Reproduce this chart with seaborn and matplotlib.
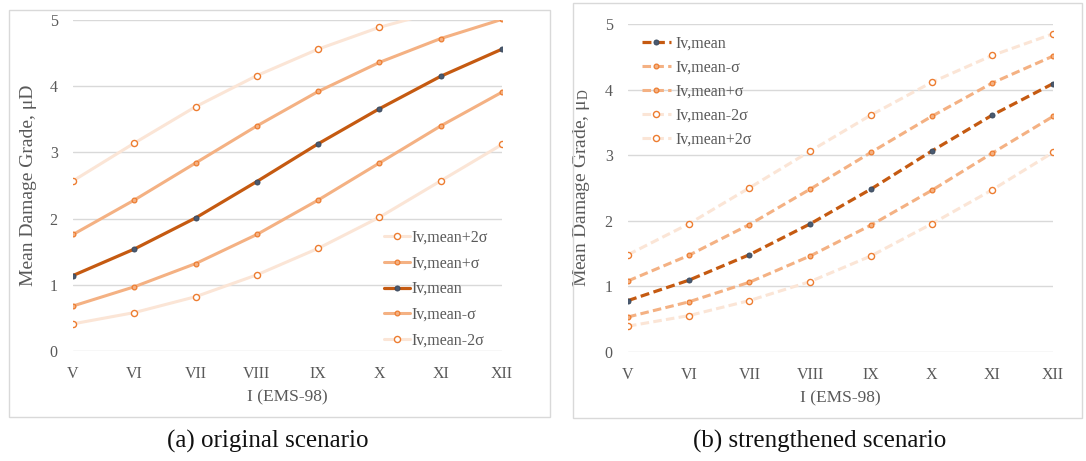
import matplotlib
matplotlib.use("Agg")
import matplotlib.pyplot as plt
from matplotlib.patches import Rectangle
import seaborn as sns

intensity = ['V', 'VI', 'VII', 'VIII', 'IX', 'X', 'XI', 'XII']

# (a) original scenario
orig_mean = [1.14, 1.54, 2.01, 2.56, 3.13, 3.66, 4.15, 4.56]
orig_plus1 = [1.76, 2.28, 2.84, 3.40, 3.92, 4.36, 4.72, 5.01]
orig_minus1 = [0.68, 0.97, 1.32, 1.76, 2.28, 2.84, 3.40, 3.91]
orig_plus2 = [2.57, 3.14, 3.69, 4.16, 4.56, 4.89, 5.14, 5.30]
orig_minus2 = [0.41, 0.58, 0.82, 1.15, 1.55, 2.02, 2.57, 3.12]

# (b) strengthened scenario
str_mean = [0.78, 1.09, 1.48, 1.95, 2.48, 3.06, 3.61, 4.09]
str_plus1 = [1.08, 1.47, 1.94, 2.48, 3.04, 3.59, 4.10, 4.51]
str_minus1 = [0.53, 0.76, 1.06, 1.46, 1.93, 2.46, 3.03, 3.59]
str_plus2 = [1.48, 1.95, 2.50, 3.06, 3.61, 4.11, 4.52, 4.85]
str_minus2 = [0.39, 0.55, 0.78, 1.07, 1.46, 1.95, 2.47, 3.04]

sns.set_style("white")
plt.rcParams['font.family'] = ['Liberation Serif', 'DejaVu Serif']
plt.rcParams['mathtext.fontset'] = 'custom'
plt.rcParams['mathtext.rm'] = 'Liberation Serif'

GRAY = '#595959'
ORANGE = '#ED7D31'
DARK = '#C55A11'
MID = '#F4B183'
LIGHT = '#FBE5D6'

styles = {
    'mean': dict(color=DARK, lw=2.3, marker='o', markersize=3.6,
                 markerfacecolor='#4A5A70', markeredgecolor='#3B4A5E', markeredgewidth=0.7),
    'sig': dict(color=MID, lw=2.2, marker='o', markersize=3.4,
                markerfacecolor=MID, markeredgecolor=ORANGE, markeredgewidth=0.9),
    'sig2': dict(color=LIGHT, lw=2.2, marker='o', markersize=4.4,
                 markerfacecolor='white', markeredgecolor=ORANGE, markeredgewidth=1.0),
}

fig = plt.figure(figsize=(10.86, 4.61), dpi=100)

# panel frames
fig.patches.append(Rectangle((9 / 1086, 1 - 417 / 461), (550 - 9) / 1086, (417 - 10) / 461,
                             transform=fig.transFigure, fill=False, edgecolor='#D9D9D9', lw=1))
fig.patches.append(Rectangle((573 / 1086, 1 - 418 / 461), (1082 - 573) / 1086, (418 - 3) / 461,
                             transform=fig.transFigure, fill=False, edgecolor='#D9D9D9', lw=1))

ax1 = fig.add_axes([73 / 1086, 1 - 351 / 461, (502 - 73) / 1086, (351 - 20) / 461])
ax2 = fig.add_axes([628 / 1086, 1 - 351.7 / 461, (1053 - 628) / 1086, (351.7 - 24) / 461])


def draw(ax, series, dashed):
    for label, vals, kind in series:
        kw = dict(styles[kind])
        if dashed:
            kw['linestyle'] = (0, (2.8, 1.4))
        sns.lineplot(x=intensity, y=vals, ax=ax, label=label, sort=False, **kw)
    ax.set_xlim(0, 7)
    ax.set_ylim(0, 5)
    ax.set_yticks(range(6))
    ax.grid(axis='y', color='#D9D9D9', lw=1)
    ax.grid(axis='x', visible=False)
    for s in ax.spines.values():
        s.set_visible(False)
    ax.tick_params(length=0, labelsize=11.5, labelcolor=GRAY)
    ax.tick_params(axis='x', pad=11)
    ax.tick_params(axis='y', pad=11)
    ax.set_xlabel('I (EMS-98)', fontsize=12.5, color=GRAY, labelpad=5)


draw(ax1, [
    ('Iv,mean-2σ', orig_minus2, 'sig2'),
    ('Iv,mean-σ', orig_minus1, 'sig'),
    ('Iv,mean', orig_mean, 'mean'),
    ('Iv,mean+σ', orig_plus1, 'sig'),
    ('Iv,mean+2σ', orig_plus2, 'sig2'),
], dashed=False)
ax1.set_ylabel('Mean Damage Grade, μD', fontsize=14, color=GRAY, labelpad=9)
h, l = ax1.get_legend_handles_labels()
order = [4, 3, 2, 1, 0]
ax1.legend([h[i] for i in order], [l[i] for i in order], loc='lower left',
           bbox_to_anchor=(0.71, -0.013), frameon=False, fontsize=11.5,
           handlelength=1.6, handletextpad=0.15, labelspacing=0.62,
           labelcolor=GRAY, borderaxespad=0)

draw(ax2, [
    ('Iv,mean', str_mean, 'mean'),
    ('Iv,mean-σ', str_minus1, 'sig'),
    ('Iv,mean+σ', str_plus1, 'sig'),
    ('Iv,mean-2σ', str_minus2, 'sig2'),
    ('Iv,mean+2σ', str_plus2, 'sig2'),
], dashed=True)
ax2.set_ylabel(r'Mean Damage Grade, $\mathregular{\mu_D}$', fontsize=14, color=GRAY, labelpad=9)
ax2.legend(loc='upper left', bbox_to_anchor=(0.018, 0.985), frameon=False, fontsize=11.5,
           handlelength=1.8, handletextpad=0.3, labelspacing=0.5,
           labelcolor=GRAY, borderaxespad=0)

fig.text(268 / 1086, 1 - 441 / 461, '(a) original scenario', ha='center', va='center',
         fontsize=18, color='#111111')
fig.text(820 / 1086, 1 - 441 / 461, '(b) strengthened scenario', ha='center', va='center',
         fontsize=18, color='#111111')

fig.savefig('out.png', dpi=100)
